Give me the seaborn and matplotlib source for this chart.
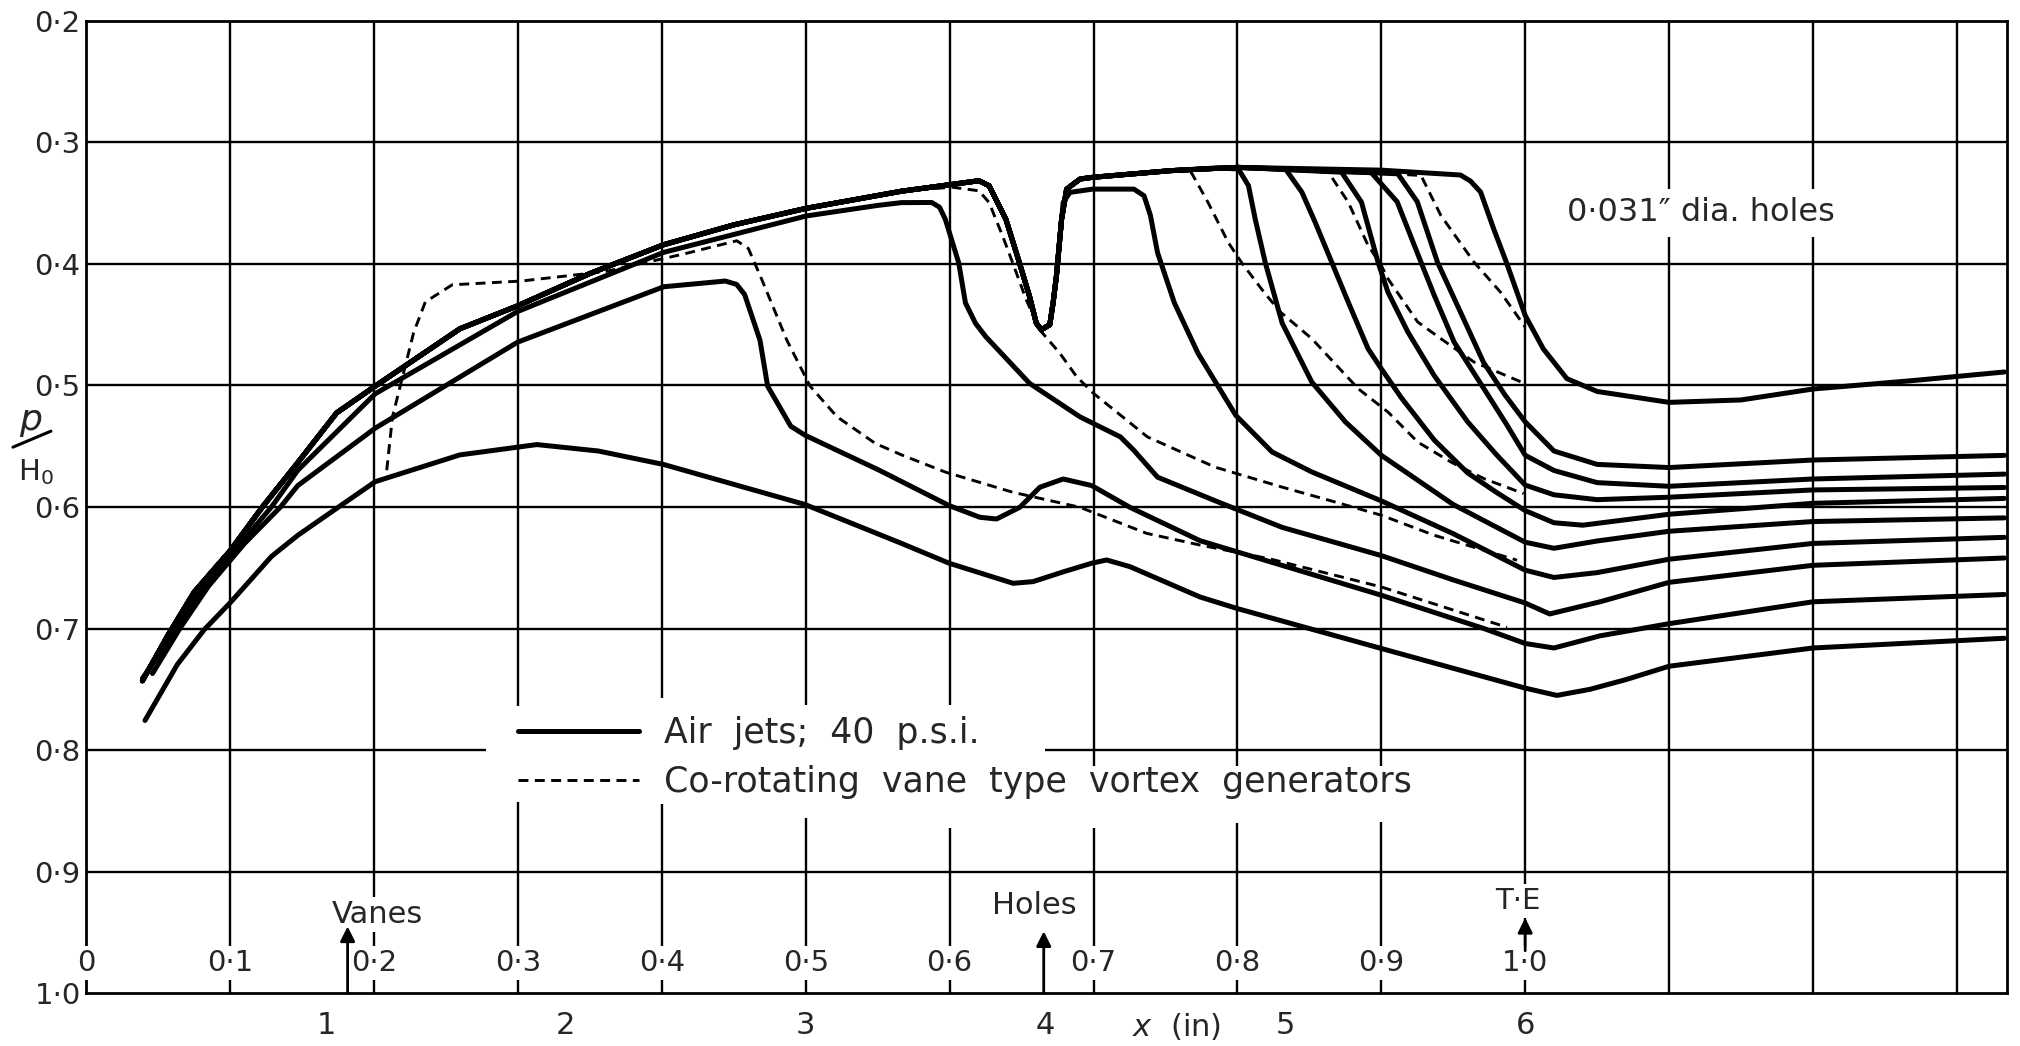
import numpy as np
import pandas as pd
import matplotlib
matplotlib.use("Agg")
import matplotlib.pyplot as plt
from matplotlib.lines import Line2D
import seaborn as sns

# ---------------- data (x = fraction of chord, y = p/H0) ----------------
# shared upstream path of the top family (incl. dip at the holes)
T_up_c = [0.039, 0.057, 0.075, 0.100, 0.1224, 0.147, 0.174, 0.2008, 0.2596, 0.2997, 0.35, 0.4013, 0.45,
          0.5003, 0.5666, 0.6204, 0.6274, 0.6391, 0.6485, 0.6555, 0.6602, 0.6637, 0.6696, 0.6719, 0.6742]
T_up_y = [0.743, 0.705, 0.670, 0.636, 0.600, 0.5635, 0.5226, 0.5006, 0.4535, 0.4346, 0.408, 0.3843, 0.368,
          0.3544, 0.3403, 0.3317, 0.3358, 0.3634, 0.3992, 0.4267, 0.4488, 0.4543, 0.4501, 0.4322, 0.4102]
P_c = [0.6778, 0.6813, 0.6906, 0.6993, 0.7538]
P_y = [0.3634, 0.3386, 0.3303, 0.3289, 0.3234]

B1_c = [0.6789, 0.6836, 0.6993, 0.7281, 0.7351, 0.7395, 0.7445, 0.7562, 0.7726, 0.7989, 0.8241, 0.8517, 0.9,
        0.95, 1.0, 1.02, 1.05, 1.1, 1.2, 1.333]
B1_y = [0.3496, 0.3413, 0.3386, 0.3386, 0.3441, 0.360, 0.3909, 0.4322, 0.4736, 0.5247, 0.5548, 0.5712, 0.595,
        0.622, 0.652, 0.658, 0.654, 0.643, 0.630, 0.625]
Sa_c = [0.785, 0.8007, 0.8077, 0.8124, 0.8194, 0.8311, 0.8517, 0.875, 0.9, 0.95, 1.0, 1.02, 1.05, 1.1, 1.2, 1.333]
Sa_y = [0.3212, 0.322, 0.3358, 0.3634, 0.3992, 0.4488, 0.4973, 0.530, 0.5575, 0.598, 0.629, 0.634, 0.628,
        0.620, 0.612, 0.609]
Sb_c = [0.80, 0.8333, 0.8448, 0.854, 0.8655, 0.877, 0.8908, 0.9, 0.9138, 0.9368, 0.96, 0.98, 1.0, 1.02, 1.04,
        1.1, 1.2, 1.333]
Sb_y = [0.3207, 0.3219, 0.3411, 0.3658, 0.3986, 0.4315, 0.4699, 0.4863, 0.510, 0.545, 0.572, 0.588, 0.603,
        0.613, 0.615, 0.606, 0.597, 0.593]
Sc_c = [0.80, 0.8724, 0.8862, 0.8977, 0.9046, 0.9184, 0.9368, 0.96, 0.98, 1.0, 1.02, 1.05, 1.1, 1.2, 1.333]
Sc_y = [0.3207, 0.3247, 0.3493, 0.3986, 0.4233, 0.456, 0.492, 0.530, 0.557, 0.582, 0.590, 0.594, 0.592,
        0.586, 0.584]
Sd_c = [0.80, 0.893, 0.911, 0.923, 0.9368, 0.9506, 0.9713, 0.987, 1.0, 1.02, 1.05, 1.1, 1.2, 1.333]
Sd_y = [0.3207, 0.325, 0.349, 0.385, 0.426, 0.4644, 0.5027, 0.532, 0.5575, 0.570, 0.580, 0.583, 0.577, 0.573]
Se_c = [0.80, 0.9115, 0.925, 0.939, 0.955, 0.971, 0.986, 1.0, 1.02, 1.05, 1.1, 1.2, 1.333]
Se_y = [0.3207, 0.326, 0.349, 0.3986, 0.4397, 0.481, 0.508, 0.530, 0.554, 0.565, 0.5676, 0.5614, 0.5576]
SL_c = [0.80, 0.9, 0.955, 0.962, 0.969, 0.978, 0.987, 1.0, 1.0126, 1.029, 1.05, 1.1, 1.15, 1.2, 1.27, 1.333]
SL_y = [0.3207, 0.323, 0.327, 0.332, 0.341, 0.371, 0.399, 0.4425, 0.47, 0.4945, 0.505, 0.514, 0.512, 0.503,
        0.496, 0.489]

U_c = [0.039, 0.06, 0.078, 0.105, 0.1287, 0.147, 0.2008, 0.2997, 0.4013, 0.5003, 0.55, 0.5666, 0.5876, 0.593,
       0.597, 0.6063, 0.611, 0.618, 0.625, 0.6555, 0.6906, 0.7187, 0.728, 0.7445, 0.7843, 0.8311, 0.9, 0.95,
       1.0, 1.017, 1.052, 1.1, 1.2, 1.333]
U_y = [0.741, 0.705, 0.672, 0.633, 0.600, 0.5698, 0.5069, 0.4393, 0.3906, 0.3607, 0.352, 0.3497, 0.3496,
       0.3535, 0.3634, 0.3992, 0.4322, 0.449, 0.4598, 0.4983, 0.5259, 0.5424, 0.5534, 0.5755, 0.5948, 0.6168,
       0.640, 0.660, 0.679, 0.688, 0.678, 0.662, 0.648, 0.642]
S2_c = [0.046, 0.065, 0.085, 0.11, 0.135, 0.147, 0.2008, 0.2997, 0.4013, 0.4441, 0.452, 0.4575, 0.4682, 0.4735,
        0.4896, 0.4995, 0.5516, 0.5997, 0.621, 0.6326, 0.6488, 0.6627, 0.6789, 0.6987, 0.7253, 0.7739, 0.8,
        0.9, 0.9713, 1.0, 1.02, 1.052, 1.1, 1.2, 1.333]
S2_y = [0.737, 0.700, 0.665, 0.630, 0.600, 0.5824, 0.5352, 0.4645, 0.4189, 0.4142, 0.417, 0.4252, 0.4629,
        0.5006, 0.5336, 0.541, 0.5701, 0.5989, 0.6085, 0.6099, 0.6003, 0.5838, 0.577, 0.5824, 0.6003, 0.6277,
        0.637, 0.6726, 0.700, 0.7123, 0.716, 0.706, 0.696, 0.678, 0.672]
S1_c = [0.0408, 0.0632, 0.0819, 0.1006, 0.1287, 0.147, 0.1754, 0.2008, 0.2596, 0.3131, 0.3559, 0.4013, 0.4995,
        0.5666, 0.5997, 0.6441, 0.658, 0.68, 0.6987, 0.7091, 0.7253, 0.7739, 0.8, 0.9, 1.0, 1.022, 1.045,
        1.07, 1.1, 1.2, 1.333]
S1_y = [0.7756, 0.7297, 0.701, 0.678, 0.6407, 0.6233, 0.600, 0.5792, 0.5572, 0.5487, 0.554, 0.5651, 0.598,
        0.630, 0.6463, 0.6628, 0.6614, 0.653, 0.6463, 0.6436, 0.6491, 0.674, 0.6836, 0.7164, 0.749, 0.755,
        0.750, 0.742, 0.731, 0.716, 0.708]

D1_c = [0.2088, 0.2128, 0.2195, 0.2275, 0.2356, 0.2543, 0.3024, 0.3612, 0.4147, 0.4521, 0.4601, 0.4682,
        0.4869, 0.503, 0.5217, 0.5484, 0.5666, 0.597, 0.6438, 0.6906, 0.7369, 0.7739, 0.8218, 0.9, 0.9874]
D1_y = [0.5698, 0.5258, 0.4943, 0.4566, 0.4314, 0.4173, 0.4142, 0.4063, 0.3921, 0.3811, 0.3874, 0.4094,
        0.4629, 0.5006, 0.5258, 0.5478, 0.5572, 0.5713, 0.5879, 0.6003, 0.6217, 0.6313, 0.6425, 0.6658, 0.699]
D2_c = [0.5003, 0.5666, 0.6016, 0.6204, 0.6274, 0.6368, 0.6438, 0.6532, 0.6626, 0.6766, 0.6883, 0.70, 0.7375,
        0.7843, 0.8311, 0.8678, 0.9, 0.9368, 0.9943]
D2_y = [0.3544, 0.3403, 0.337, 0.340, 0.3496, 0.3771, 0.3992, 0.4295, 0.4543, 0.4736, 0.4929, 0.5066, 0.5424,
        0.5672, 0.5837, 0.5959, 0.6068, 0.6233, 0.6438]
D3_c = [0.6993, 0.7538, 0.7679, 0.7796, 0.7937, 0.8030, 0.8184, 0.8299, 0.8517, 0.8839, 0.9046, 0.9253,
        0.9483, 0.9713, 0.9989]
D3_y = [0.3289, 0.3234, 0.3248, 0.3496, 0.3826, 0.3992, 0.4233, 0.4397, 0.4616, 0.5027, 0.5219, 0.5466,
        0.563, 0.5767, 0.589]
D4_c = [0.80, 0.8632, 0.877, 0.8908, 0.9, 0.9046, 0.9253, 0.9414, 0.9644, 1.0]
D4_y = [0.3207, 0.3247, 0.3493, 0.3849, 0.4014, 0.4123, 0.4479, 0.4616, 0.4808, 0.4986]
D5_c = [0.85, 0.9276, 0.9414, 0.9644, 0.9828, 1.0]
D5_y = [0.322, 0.3274, 0.3603, 0.3986, 0.4233, 0.452]

y_ticks = [0.2, 0.3, 0.4, 0.5, 0.6, 0.7, 0.8, 0.9, 1.0]
y_tick_labels = ["0·2", "0·3", "0·4", "0·5", "0·6", "0·7", "0·8", "0·9", "1·0"]
chord_ticks = [0.0, 0.1, 0.2, 0.3, 0.4, 0.5, 0.6, 0.7, 0.8, 0.9, 1.0]
chord_labels = ["0", "0·1", "0·2", "0·3", "0·4", "0·5", "0·6", "0·7", "0·8", "0·9", "1·0"]
inch_ticks = [1, 2, 3, 4, 5, 6]
chord_inches = 6.0

# ---------------- build long table ----------------
def seg(*parts):
    cs, ys = [], []
    for c, y in parts:
        cs += list(c)
        ys += list(y)
    return cs, ys

curves = {
    "S1": ("solid", seg((S1_c, S1_y))),
    "S2": ("solid", seg((S2_c, S2_y))),
    "U": ("solid", seg((U_c, U_y))),
    "B1": ("solid", seg((T_up_c, T_up_y), (B1_c, B1_y))),
    "Sa": ("solid", seg((T_up_c, T_up_y), (P_c, P_y), (Sa_c, Sa_y))),
    "Sb": ("solid", seg((T_up_c, T_up_y), (P_c, P_y), (Sb_c, Sb_y))),
    "Sc": ("solid", seg((T_up_c, T_up_y), (P_c, P_y), (Sc_c, Sc_y))),
    "Sd": ("solid", seg((T_up_c, T_up_y), (P_c, P_y), (Sd_c, Sd_y))),
    "Se": ("solid", seg((T_up_c, T_up_y), (P_c, P_y), (Se_c, Se_y))),
    "SL": ("solid", seg((T_up_c, T_up_y), (P_c, P_y), (SL_c, SL_y))),
    "D1": ("dashed", seg((D1_c, D1_y))),
    "D2": ("dashed", seg((D2_c, D2_y))),
    "D3": ("dashed", seg((D3_c, D3_y))),
    "D4": ("dashed", seg((D4_c, D4_y))),
    "D5": ("dashed", seg((D5_c, D5_y))),
}
rows = []
for name, (kind, (cs, ys)) in curves.items():
    for i, (c, y) in enumerate(zip(cs, ys)):
        rows.append({"curve": name, "kind": kind, "order": i, "c": c, "y": y})
df = pd.DataFrame(rows)

# ---------------- style ----------------
sns.set_style("white")
plt.rcParams["font.family"] = ["DejaVu Sans"]
plt.rcParams["axes.linewidth"] = 2.0

W, H = 2020, 1046
fig = plt.figure(figsize=(W / 100, H / 100), dpi=100)
ax = fig.add_axes([0.04272, 0.05038, 0.9506, 0.92993])
XMAX = 1.3345
ax.set_xlim(0, XMAX)
ax.set_ylim(1.0, 0.2)

# grid with gaps (hand-drawn sheet)
vgrid = {0.1: [(0.2, 1.0)], 0.2: [(0.2, 1.0)],
         0.3: [(0.2, 0.764), (0.843, 1.0)], 0.4: [(0.2, 0.757), (0.844, 1.0)],
         0.5: [(0.2, 0.763), (0.856, 1.0)], 0.6: [(0.2, 0.763), (0.864, 1.0)],
         0.7: [(0.2, 0.813), (0.864, 1.0)], 0.8: [(0.2, 0.813), (0.86, 1.0)],
         0.9: [(0.2, 0.813), (0.859, 1.0)], 1.0: [(0.2, 1.0)],
         1.1: [(0.2, 1.0)], 1.2: [(0.2, 1.0)], 1.3: [(0.2, 1.0)]}
for xv, segs in vgrid.items():
    for a, b in segs:
        ax.vlines(xv, a, b, color="black", lw=1.7, zorder=1)
hgrid = {0.3: [(0, XMAX)], 0.4: [(0, XMAX)], 0.5: [(0, XMAX)], 0.6: [(0, XMAX)],
         0.7: [(0, XMAX)], 0.8: [(0, 0.278), (0.666, XMAX)], 0.9: [(0, XMAX)]}
for yv, segs in hgrid.items():
    for a, b in segs:
        ax.hlines(yv, a, b, color="black", lw=1.7, zorder=1)

# curves
sns.lineplot(data=df[df.kind == "solid"], x="c", y="y", units="curve", estimator=None, sort=False,
             color="black", linewidth=3.6, ax=ax, legend=False, zorder=3,
             solid_joinstyle="round", solid_capstyle="round")
sns.lineplot(data=df[df.kind == "dashed"], x="c", y="y", units="curve", estimator=None, sort=False,
             color="black", linewidth=2.1, linestyle=(0, (3.4, 2.2)), ax=ax, legend=False, zorder=3,
             dash_joinstyle="round")

for sp in ax.spines.values():
    sp.set_visible(True)
    sp.set_color("black")
    sp.set_linewidth(2.0)

# y axis
ax.set_yticks(y_ticks)
ax.set_yticklabels(y_tick_labels)
ax.tick_params(axis="y", length=0, pad=4, labelsize=21)
ax.set_ylabel("")
# x axis in inches
ax.set_xticks([k / chord_inches for k in inch_ticks])
ax.set_xticklabels([str(k) for k in inch_ticks])
ax.tick_params(axis="x", direction="inout", length=17, width=2, pad=4, labelsize=22)
ax.set_xlabel("")
ax.text(0.758, 1.027, "$x$  (in)", ha="center", va="center", fontsize=22, clip_on=False)

# chord fraction labels
wb = dict(facecolor="white", edgecolor="none", pad=2)
for xv, lab in zip(chord_ticks, chord_labels):
    ax.text(xv, 0.975, lab, ha="center", va="center", fontsize=21, bbox=wb, zorder=5)

# annotations with arrows
arrow = dict(arrowstyle="-|>", color="black", lw=2, mutation_scale=22, shrinkA=0, shrinkB=0)
ax.annotate("", xy=(0.1816, 0.945), xytext=(0.1816, 1.0), arrowprops=arrow, zorder=6)
ax.text(0.2026, 0.935, "Vanes", ha="center", va="center", fontsize=22, bbox=wb, zorder=5)
ax.annotate("", xy=(0.6654, 0.949), xytext=(0.6654, 1.0), arrowprops=arrow, zorder=6)
ax.text(0.659, 0.928, "Holes", ha="center", va="center", fontsize=22, bbox=wb, zorder=5)
ax.annotate("", xy=(1.0, 0.938), xytext=(1.0, 0.965), arrowprops=arrow, zorder=6)
ax.text(0.995, 0.924, "T·E", ha="center", va="center", fontsize=21, bbox=wb, zorder=5)
ax.text(1.122, 0.358, "0·031\u2033 dia. holes", ha="center", va="center", fontsize=23,
        bbox=dict(facecolor="white", edgecolor="none", pad=6), zorder=5)

# legend
handles = [Line2D([], [], color="black", lw=3.6),
           Line2D([], [], color="black", lw=2.1, linestyle=(0, (3.4, 2.2)))]
labels = ["Air  jets;  40  p.s.i.", "Co-rotating  vane  type  vortex  generators"]
ax.legend(handles, labels, loc="upper left", bbox_to_anchor=(0.300, 0.772), bbox_transform=ax.transData,
          frameon=False, fontsize=25, handlelength=3.5, handletextpad=0.7, labelspacing=0.42,
          borderaxespad=0, borderpad=0)

# p / H0 label
fig.text(0.0150, 0.598, "p", fontsize=26, ha="center", va="center", style="italic")
fig.add_artist(Line2D([0.0064, 0.0252], [0.5725, 0.5878], transform=fig.transFigure, color="black", lw=2.2))
fig.text(0.0180, 0.549, "H$_0$", fontsize=21, ha="center", va="center")

fig.savefig("out.png", dpi=100, facecolor="white")
